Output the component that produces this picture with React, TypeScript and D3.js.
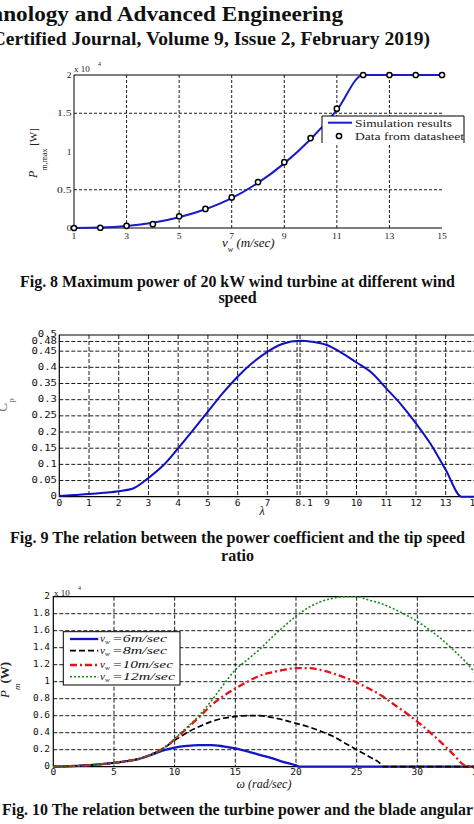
import React from 'react';
import * as d3 from 'd3';

const SERIF = "'Liberation Serif','Times New Roman',serif";
const MONO = "'DejaVu Sans Mono','Liberation Mono',monospace";

// ---------- Fig. 8 ----------
const windSpeed = [1, 2, 3, 4, 5, 6, 7, 8, 9, 10, 11, 12, 13, 14, 15];
const simulationPower = [0, 0.005, 0.025, 0.068, 0.14, 0.245, 0.39, 0.59, 0.845, 1.16, 1.54, 2, 2, 2, 2];
const datasheetPower = [0, 0.003, 0.028, 0.05, 0.152, 0.25, 0.4, 0.6, 0.86, 1.175, 1.56, 2, 2, 2, 2];
const fig8XTicks = [1, 3, 5, 7, 9, 11, 13, 15];
const fig8XGrid = [3, 5, 7, 9, 11, 13];
const fig8YTicks = [0, 0.5, 1, 1.5, 2];
const fig8YTickLabels = ['0', '0.5', '1', '1.5', '2'];
const fig8YGrid = [0.5, 1.5];
const fig8Legend = ['Simulation results', 'Data from datasheet'];

// ---------- Fig. 9 ----------
const tipSpeedRatio = [0, 0.5, 1, 1.5, 2, 2.5, 3, 3.5, 4, 4.5, 5, 5.5, 6, 6.5, 7, 7.5, 8.1, 8.5, 9, 9.5, 10, 10.5, 11, 11.5, 12, 12.5, 13, 13.54, 14];
const powerCoefficient = [0.002, 0.005, 0.008, 0.012, 0.017, 0.026, 0.058, 0.097, 0.15, 0.206, 0.263, 0.32, 0.371, 0.414, 0.448, 0.472, 0.482, 0.479, 0.469, 0.445, 0.415, 0.384, 0.335, 0.285, 0.227, 0.162, 0.083, 0, 0];
const fig9XTicks = [0, 1, 2, 3, 4, 5, 6, 7, 8.1, 9, 10, 11, 12, 13, 14];
const fig9XTickLabels = ['0', '1', '2', '3', '4', '5', '6', '7', '8.1', '9', '10', '11', '12', '13', '14'];
const fig9XGrid = [1, 2, 3, 4, 5, 6, 7, 8, 8.1, 9, 10, 11, 12, 13];
const fig9YTicks = [0, 0.05, 0.1, 0.15, 0.2, 0.25, 0.3, 0.35, 0.4, 0.45, 0.48, 0.5];
const fig9YTickLabels = ['0', '0.05', '0.1', '0.15', '0.2', '0.25', '0.3', '0.35', '0.4', '0.45', '0.48', '0.5'];
const fig9YGrid = [0.05, 0.1, 0.15, 0.2, 0.25, 0.3, 0.35, 0.4, 0.45, 0.48];

// ---------- Fig. 10 ----------
const omega6 = [0, 1, 2, 3, 4, 5, 6, 7, 8, 9, 10, 11, 12, 13, 14, 15, 16, 17, 18, 19, 20, 20.3, 35];
const power6 = [0, 0.004, 0.01, 0.018, 0.03, 0.045, 0.065, 0.09, 0.135, 0.19, 0.225, 0.245, 0.255, 0.255, 0.24, 0.215, 0.18, 0.14, 0.1, 0.055, 0.015, 0, 0];
const omega8 = [0, 1, 2, 3, 4, 5, 6, 7, 8, 9, 10, 11, 12, 13, 14, 15, 16, 17, 18, 19, 20, 21, 22, 23, 24, 25, 26, 27, 27.2, 35];
const power8 = [0, 0.004, 0.01, 0.018, 0.03, 0.045, 0.065, 0.09, 0.14, 0.21, 0.31, 0.4, 0.47, 0.53, 0.57, 0.59, 0.6, 0.6, 0.58, 0.55, 0.51, 0.47, 0.42, 0.36, 0.28, 0.2, 0.12, 0.03, 0, 0];
const omega10 = [0, 1, 2, 3, 4, 5, 6, 7, 8, 9, 10, 11, 12, 13, 14, 15, 16, 17, 18, 19, 20, 21, 22, 23, 24, 25, 26, 27, 28, 29, 30, 31, 32, 33, 34, 35];
const power10 = [0, 0.004, 0.01, 0.018, 0.03, 0.045, 0.065, 0.09, 0.14, 0.21, 0.32, 0.45, 0.58, 0.72, 0.83, 0.92, 1.0, 1.07, 1.11, 1.14, 1.16, 1.16, 1.14, 1.1, 1.05, 0.99, 0.92, 0.84, 0.74, 0.64, 0.53, 0.41, 0.28, 0.14, 0.01, 0];
const omega12 = [0, 1, 2, 3, 4, 5, 6, 7, 8, 9, 10, 11, 12, 13, 14, 15, 16, 17, 18, 19, 20, 21, 22, 23, 24, 25, 26, 27, 28, 29, 30, 31, 32, 33, 34, 35];
const power12 = [0, 0.004, 0.01, 0.018, 0.03, 0.045, 0.065, 0.09, 0.14, 0.21, 0.33, 0.46, 0.6, 0.77, 0.96, 1.14, 1.26, 1.38, 1.52, 1.65, 1.77, 1.87, 1.94, 1.98, 2.0, 2.0, 1.96, 1.92, 1.86, 1.79, 1.71, 1.61, 1.5, 1.37, 1.23, 1.06];
const fig10XTicks = [0, 5, 10, 15, 20, 25, 30, 35];
const fig10XGrid = [5, 10, 15, 20, 25, 30];
const fig10YTicks = [0, 0.2, 0.4, 0.6, 0.8, 1, 1.2, 1.4, 1.6, 1.8, 2];
const fig10YTickLabels = ['0', '0.2', '0.4', '0.6', '0.8', '1', '1.2', '1.4', '1.6', '1.8', '2'];
const fig10YGrid = [0.2, 0.4, 0.6, 0.8, 1, 1.2, 1.4, 1.6, 1.8];
const fig10LegendLabels = ['=6m/sec', '=8m/sec', '=10m/sec', '=12m/sec'];

export default function App() {
  // scales
  const x8 = d3.scaleLinear().domain([1, 15]).range([74, 442]);
  const y8 = d3.scaleLinear().domain([0, 2]).range([228, 75]);
  const x9 = d3.scaleLinear().domain([0, 14]).range([59.3, 475.4]);
  const y9 = d3.scaleLinear().domain([0, 0.5]).range([496.7, 335]);
  const x10 = d3.scaleLinear().domain([0, 35]).range([53.3, 478]);
  const y10 = d3.scaleLinear().domain([0, 2]).range([766.7, 596.7]);

  const mk = (xs: number[], xs_: any, ys_: any) =>
    d3.line<number>().x((_, i) => xs_(xs[i])).y((d) => ys_(d)).curve(d3.curveMonotoneX);

  const simPath = mk(windSpeed, x8, y8)(simulationPower) || '';
  const cpPath = mk(tipSpeedRatio, x9, y9)(powerCoefficient) || '';
  const p6 = mk(omega6, x10, y10)(power6) || '';
  const p8 = mk(omega8, x10, y10)(power8) || '';
  const p10 = mk(omega10, x10, y10)(power10) || '';
  const p12 = mk(omega12, x10, y10)(power12) || '';

  const series10 = [
    { d: p6, color: '#1414c8', dash: undefined as string | undefined, w: 2.3 },
    { d: p8, color: '#000000', dash: '6,3', w: 1.7 },
    { d: p10, color: '#e3121b', dash: '7,3,2,3', w: 2.3 },
    { d: p12, color: '#178a17', dash: '2,2', w: 1.6 },
  ];
  const legendRows = [639, 650.7, 665, 676.7];
  const legendBase = [641.5, 653.5, 667.5, 679.5];
  const legendTextLen = [55, 55, 61, 63];

  const grid = { stroke: '#000', strokeWidth: 0.9, fill: 'none' };

  return (
    <svg width={474} height={824} style={{ position: 'absolute', left: 0, top: 0, display: 'block', background: '#fff' }}>
      {/* Header */}
      <text transform="translate(343,21) scale(1.055,1)" textAnchor="end" fontFamily={SERIF} fontWeight="bold" fontSize={22} fill="#111">
        Technology and Advanced Engineering
      </text>
      <text transform="translate(430,45) scale(1.056,1)" textAnchor="end" fontFamily={SERIF} fontWeight="bold" fontSize={18.5} fill="#111">
        (ISO 9001:2008 Certified Journal, Volume 9, Issue 2, February 2019)
      </text>

      {/* ================= Fig 8 ================= */}
      <g>
        {fig8XGrid.map((v) => (
          <line key={'g8x' + v} x1={x8(v)} x2={x8(v)} y1={y8(2)} y2={y8(0)} {...grid} strokeDasharray="3,2" />
        ))}
        {fig8YGrid.map((v) => (
          <line key={'g8y' + v} x1={x8(1)} x2={x8(15)} y1={y8(v)} y2={y8(v)} {...grid} strokeDasharray="3,2" />
        ))}
        <path d={`M${x8(15)},${y8(2)}H${x8(1)}V${y8(0)}H${x8(15)}`} fill="none" stroke="#000" strokeWidth={1} />
        <path d={simPath} fill="none" stroke="#1a1ac8" strokeWidth={2} />
        {datasheetPower.map((v, i) => (
          <circle key={'m8' + i} cx={x8(windSpeed[i])} cy={y8(v)} r={2.6} fill="#fff" stroke="#000" strokeWidth={1.5} />
        ))}
        {fig8YTicks.map((v, i) => (
          <text key={'t8y' + v} x={71.5} y={y8(v) + 3} textAnchor="end" fontFamily={SERIF} fontSize={9} fill="#222"
            textLength={fig8YTickLabels[i].length * 4.8} lengthAdjust="spacingAndGlyphs">
            {fig8YTickLabels[i]}
          </text>
        ))}
        {fig8XTicks.map((v) => (
          <text key={'t8x' + v} x={x8(v)} y={238.5} textAnchor="middle" fontFamily={SERIF} fontSize={9} fill="#222"
            textLength={String(v).length * 4.8} lengthAdjust="spacingAndGlyphs">
            {v}
          </text>
        ))}
        <text x={74} y={72} fontFamily={SERIF} fontSize={9} fill="#222">x 10</text>
        <text x={98} y={66} fontFamily={SERIF} fontSize={6} fill="#222">4</text>
        {/* axis labels */}
        <text transform="translate(37,153) rotate(-90)" textAnchor="middle" fontFamily={SERIF} fill="#222">
          <tspan fontSize={12} fontStyle="italic">P</tspan>
          <tspan fontSize={8} dy={10}>m,max</tspan>
          <tspan fontSize={11} dy={-10}> [W]</tspan>
        </text>
        <text x={222} y={247} fontFamily={SERIF} fontStyle="italic" fill="#111">
          <tspan fontSize={13}>v</tspan>
          <tspan fontSize={8} dy={5}>w</tspan>
          <tspan fontSize={13} dy={-5}> (m/sec)</tspan>
        </text>
        {/* legend */}
        <rect x={322} y={116} width={142} height={27} fill="#fff" />
        <path d="M322,143V116H464V143" fill="none" stroke="#000" strokeWidth={1} />
        <line x1={328} x2={352} y1={122.7} y2={122.7} stroke="#1a1ac8" strokeWidth={2} />
        <text x={355} y={126.5} fontFamily={SERIF} fontSize={10} fill="#222" textLength={97} lengthAdjust="spacingAndGlyphs">
          {fig8Legend[0]}
        </text>
        <circle cx={339} cy={136} r={2.6} fill="#fff" stroke="#000" strokeWidth={1.5} />
        <text x={355} y={139.5} fontFamily={SERIF} fontSize={10} fill="#222" textLength={109} lengthAdjust="spacingAndGlyphs">
          {fig8Legend[1]}
        </text>
      </g>

      <text x={20} y={287} fontFamily={SERIF} fontWeight="bold" fontSize={16} fill="#111" textLength={435} lengthAdjust="spacingAndGlyphs">
        Fig. 8 Maximum power of 20 kW wind turbine at different wind
      </text>
      <text x={237.5} y={303} textAnchor="middle" fontFamily={SERIF} fontWeight="bold" fontSize={16} fill="#111">
        speed
      </text>

      {/* ================= Fig 9 ================= */}
      <g>
        {fig9XGrid.map((v) => (
          <line key={'g9x' + v} x1={x9(v)} x2={x9(v)} y1={y9(0.5)} y2={y9(0)} {...grid} strokeDasharray="4,2" />
        ))}
        {fig9YGrid.map((v) => (
          <line key={'g9y' + v} x1={x9(0)} x2={474} y1={y9(v)} y2={y9(v)} {...grid} strokeDasharray="4,2" />
        ))}
        <path d={`M474,${y9(0.5)}H${x9(0)}V${y9(0)}H474`} fill="none" stroke="#000" strokeWidth={1.2} />
        <path d={cpPath} fill="none" stroke="#1010c0" strokeWidth={2} />
        {fig9YTicks.map((v, i) => (
          <text key={'t9y' + v} x={57} y={y9(v) + (v === 0.5 ? 1.5 : 2.5)} textAnchor="end" fontFamily={MONO} fontSize={8} fill="#111"
            textLength={fig9YTickLabels[i].length * 6.4} lengthAdjust="spacingAndGlyphs">
            {fig9YTickLabels[i]}
          </text>
        ))}
        {fig9XTicks.map((v, i) => (
          <text key={'t9x' + v} x={x9(v) + (v === 8.1 ? 4 : 0)} y={506} textAnchor="middle" fontFamily={MONO} fontSize={8} fill="#111"
            textLength={fig9XTickLabels[i].length * 5.8} lengthAdjust="spacingAndGlyphs">
            {fig9XTickLabels[i]}
          </text>
        ))}
        <text transform="translate(7,412) rotate(-90)" fontFamily={SERIF} fill="#777">
          <tspan fontSize={14} fontStyle="italic">C</tspan>
          <tspan fontSize={9} dy={7}>p</tspan>
        </text>
        <text x={262} y={515} textAnchor="middle" fontFamily={SERIF} fontStyle="italic" fontSize={12} fill="#111">λ</text>
      </g>

      <text x={10} y={543} fontFamily={SERIF} fontWeight="bold" fontSize={16} fill="#111" textLength={455} lengthAdjust="spacingAndGlyphs">
        Fig. 9 The relation between the power coefficient and the  tip speed
      </text>
      <text x={237.5} y={561} textAnchor="middle" fontFamily={SERIF} fontWeight="bold" fontSize={16} fill="#111">
        ratio
      </text>

      {/* ================= Fig 10 ================= */}
      <g>
        {fig10XGrid.map((v) => (
          <line key={'g10x' + v} x1={x10(v)} x2={x10(v)} y1={y10(2)} y2={y10(0)} {...grid} strokeDasharray="4,2" />
        ))}
        {fig10YGrid.map((v) => (
          <line key={'g10y' + v} x1={x10(0)} x2={474} y1={y10(v)} y2={y10(v)} {...grid} strokeDasharray="4,2" />
        ))}
        <path d={`M474,${y10(2)}H${x10(0)}V${y10(0)}H474`} fill="none" stroke="#000" strokeWidth={1.2} />
        {series10.map((s, i) => (
          <path key={'s10' + i} d={s.d} fill="none" stroke={s.color} strokeWidth={s.w} strokeDasharray={s.dash} />
        ))}
        {fig10YTicks.map((v, i) => (
          <text key={'t10y' + v} x={50} y={y10(v) + 2.5} textAnchor="end" fontFamily={MONO} fontSize={8} fill="#111"
            textLength={fig10YTickLabels[i].length * 5.7} lengthAdjust="spacingAndGlyphs">
            {fig10YTickLabels[i]}
          </text>
        ))}
        {fig10XTicks.map((v) => (
          <text key={'t10x' + v} x={x10(v)} y={775} textAnchor="middle" fontFamily={MONO} fontSize={8} fill="#111"
            textLength={String(v).length * 5.8} lengthAdjust="spacingAndGlyphs">
            {v}
          </text>
        ))}
        <text x={54} y={596} fontFamily={SERIF} fontSize={9} fill="#222">x 10</text>
        <text x={78} y={590} fontFamily={SERIF} fontSize={6} fill="#222">4</text>
        <text transform="translate(9,698) rotate(-90)" fontFamily={SERIF} fill="#222">
          <tspan fontSize={13} fontStyle="italic">P</tspan>
          <tspan fontSize={9} dy={11} fontStyle="italic">m</tspan>
          <tspan fontSize={13} dy={-11} fontWeight="bold">(W)</tspan>
        </text>
        <text x={264} y={788} textAnchor="middle" fontFamily={SERIF} fontStyle="italic" fontSize={12} fill="#111">
          ω (rad/sec)
        </text>
        {/* legend */}
        <rect x={63.3} y={631.7} width={116.7} height={53.3} fill="#fff" stroke="#000" strokeWidth={1} />
        {series10.map((s, i) => (
          <g key={'lg' + i}>
            <line x1={70} x2={98.3} y1={legendRows[i]} y2={legendRows[i]} stroke={s.color} strokeWidth={s.w} strokeDasharray={s.dash} />
            <text x={100} y={legendBase[i]} fontFamily={SERIF} fontStyle="italic" fill="#111">
              <tspan fontSize={11}>v</tspan>
              <tspan fontSize={7} dy={2}>w</tspan>
            </text>
            <text x={112} y={legendBase[i]} fontFamily={SERIF} fontStyle="italic" fontSize={10} fill="#111"
              textLength={legendTextLen[i]} lengthAdjust="spacingAndGlyphs">
              {fig10LegendLabels[i]}
            </text>
          </g>
        ))}
      </g>

      <text x={2} y={815} fontFamily={SERIF} fontWeight="bold" fontSize={16} fill="#111" textLength={471} lengthAdjust="spacingAndGlyphs">
        Fig. 10 The relation between the turbine power and the blade angular
      </text>
    </svg>
  );
}
